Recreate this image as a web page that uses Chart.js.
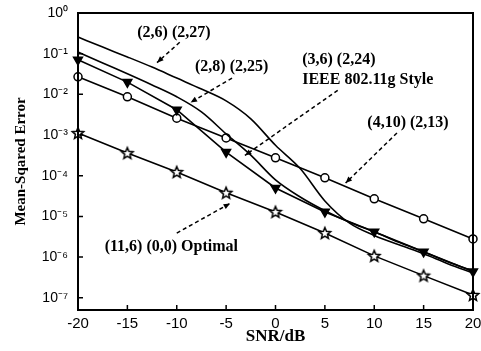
<!DOCTYPE html>
<html>
<head>
<meta charset="utf-8">
<script src="https://cdn.jsdelivr.net/npm/chart.js@4/dist/chart.umd.min.js"></script>
<style>
  html, body { margin: 0; background: #fff; }
  canvas { display: block; }
</style>
</head>
<body>
<canvas id="chart" width="481" height="351"></canvas>
<script>
// SNR points (dB)
const snrCoarse = [-20, -15, -10, -5, 0, 5, 10, 15, 20];
const snrFine = [-20, -17.5, -15, -12.5, -10, -7.5, -5, -2.5, 0, 2.5, 5, 7.5, 10, 12.5, 15, 17.5, 20];

// MSE
const mse26 = [0.257, 0.145, 0.0832, 0.0468, 0.0251, 0.0135, 6.9e-3, 2.5e-3, 5.6e-4, 1.5e-4, 2.4e-5, 6.8e-6, 3.4e-6, 2.0e-6, 1.2e-6, 6.8e-7, 4.1e-7];
const mse28 = [0.11, 0.059, 0.032, 0.017, 8.7e-3, 3.7e-3, 1.07e-3, 3.2e-4, 7.9e-5, 3.0e-5, 1.38e-5, 7.2e-6, 4.2e-6, 2.3e-6, 1.35e-6, 7.6e-7, 4.6e-7];
const mseIeee = [0.071, 0.020, 4.2e-3, 3.8e-4, 5.0e-5, 1.29e-5, 4.2e-6, 1.35e-6, 4.4e-7];
const mse410 = [0.027, 8.7e-3, 2.6e-3, 8.5e-4, 2.75e-4, 8.9e-5, 2.7e-5, 8.7e-6, 2.8e-6];
const mseOpt = [1.12e-3, 3.6e-4, 1.23e-4, 3.8e-5, 1.29e-5, 3.9e-6, 1.07e-6, 3.5e-7, 1.17e-7];

const yTickValues = [1, 1e-1, 1e-2, 1e-3, 1e-4, 1e-5, 1e-6, 1e-7];

// annotation text, anchored in data units (x in dB, y as log10 of MSE)
const notes = [
  { lines: ['(2,6) (2,27)'], x: -14.0, y: -0.49, from: [-9.7, -0.72], to: [-12.0, -1.22] },
  { lines: ['(2,8) (2,25)'], x: -8.15, y: -1.33, from: [-4.4, -1.60], to: [-8.6, -2.20] },
  { lines: ['(3,6) (2,24)', 'IEEE 802.11g Style'], x: 2.7, y: -1.15, from: [6.3, -1.90], to: [-3.1, -3.50] },
  { lines: ['(4,10) (2,13)'], x: 9.3, y: -2.70, from: [12.3, -2.95], to: [7.1, -4.18] },
  { lines: ['(11,6) (0,0) Optimal'], x: -17.3, y: -5.75, from: [-10.0, -5.41], to: [-4.6, -4.68] }
];

const supMap = { '0': '\u2070', '1': '\u00b9', '2': '\u00b2', '3': '\u00b3', '4': '\u2074', '5': '\u2075', '6': '\u2076', '7': '\u2077', '8': '\u2078', '9': '\u2079', '-': '\u207b' };
const sup = n => String(n).split('').map(c => supMap[c]).join('');

function pairs(xs, ys) {
  return xs.map((x, i) => ({ x: x, y: ys[i] }));
}

function starImage(r) {
  const c = document.createElement('canvas');
  const s = r * 2 + 4;
  c.width = c.height = s;
  const g = c.getContext('2d');
  g.translate(s / 2, s / 2 + 0.5);
  g.beginPath();
  for (let i = 0; i < 10; i++) {
    const rad = i % 2 ? r * 0.45 : r;
    const a = -Math.PI / 2 + i * Math.PI / 5;
    g.lineTo(rad * Math.cos(a), rad * Math.sin(a));
  }
  g.closePath();
  g.fillStyle = '#fff';
  g.fill();
  g.lineWidth = 1.5;
  g.strokeStyle = '#000';
  g.stroke();
  return c;
}

const serifBold = '"Liberation Serif", "Times New Roman", serif';

const frameAndTicks = {
  id: 'frameAndTicks',
  afterDraw(chart) {
    const { ctx, chartArea: a, scales: { x, y } } = chart;
    ctx.save();
    ctx.strokeStyle = '#000';
    ctx.lineWidth = 1.5;
    ctx.beginPath();
    x.ticks.forEach(t => {
      const p = x.getPixelForValue(t.value);
      ctx.moveTo(p, a.bottom);
      ctx.lineTo(p, a.bottom - 5);
    });
    y.ticks.forEach(t => {
      const p = y.getPixelForValue(t.value);
      ctx.moveTo(a.left, p);
      ctx.lineTo(a.left + 5, p);
    });
    ctx.stroke();
    ctx.lineWidth = 2;
    ctx.strokeRect(a.left, a.top, a.right - a.left, a.bottom - a.top);
    ctx.restore();
  }
};

const annotate = {
  id: 'annotate',
  afterDatasetsDraw(chart) {
    const { ctx, scales: { x, y } } = chart;
    const px = v => x.getPixelForValue(v);
    const py = e => y.getPixelForValue(Math.pow(10, e));
    ctx.save();
    ctx.fillStyle = '#000';
    ctx.strokeStyle = '#000';
    ctx.font = 'bold 16px ' + serifBold;
    ctx.textBaseline = 'middle';
    notes.forEach(n => {
      n.lines.forEach((t, i) => ctx.fillText(t, px(n.x), py(n.y) + i * 20));
      const x0 = px(n.from[0]), y0 = py(n.from[1]);
      const x1 = px(n.to[0]), y1 = py(n.to[1]);
      ctx.setLineDash([4, 3]);
      ctx.lineWidth = 1.5;
      ctx.beginPath();
      ctx.moveTo(x0, y0);
      ctx.lineTo(x1, y1);
      ctx.stroke();
      ctx.setLineDash([]);
      const ang = Math.atan2(y1 - y0, x1 - x0);
      ctx.beginPath();
      ctx.moveTo(x1, y1);
      ctx.lineTo(x1 - 7 * Math.cos(ang - 0.4), y1 - 7 * Math.sin(ang - 0.4));
      ctx.lineTo(x1 - 7 * Math.cos(ang + 0.4), y1 - 7 * Math.sin(ang + 0.4));
      ctx.closePath();
      ctx.fill();
    });
    ctx.restore();
  }
};

const lineBase = { borderColor: '#000', backgroundColor: '#000', borderWidth: 1.6, clip: false };

new Chart(document.getElementById('chart'), {
  type: 'line',
  data: {
    datasets: [
      Object.assign({}, lineBase, { label: '(2,6) (2,27)', data: pairs(snrFine, mse26), pointRadius: 0, cubicInterpolationMode: 'monotone' }),
      Object.assign({}, lineBase, { label: '(2,8) (2,25)', data: pairs(snrFine, mse28), pointRadius: 0, cubicInterpolationMode: 'monotone' }),
      Object.assign({}, lineBase, { label: '(3,6) (2,24) IEEE 802.11g Style', data: pairs(snrCoarse, mseIeee), pointStyle: 'triangle', pointRotation: 180, pointRadius: 5, pointBackgroundColor: '#000', pointBorderColor: '#000' }),
      Object.assign({}, lineBase, { label: '(4,10) (2,13)', data: pairs(snrCoarse, mse410), pointStyle: 'circle', pointRadius: 4, pointBackgroundColor: '#fff', pointBorderColor: '#000', pointBorderWidth: 1.5 }),
      Object.assign({}, lineBase, { label: '(11,6) (0,0) Optimal', data: pairs(snrCoarse, mseOpt), pointStyle: starImage(6) })
    ]
  },
  options: {
    responsive: false,
    animation: false,
    events: [],
    layout: { padding: { left: 0, top: 13, right: 8, bottom: 0 } },
    plugins: { legend: { display: false }, tooltip: { enabled: false } },
    scales: {
      x: {
        type: 'linear',
        min: -20,
        max: 20,
        afterFit: s => { s.height = 41; s.paddingLeft = 0; s.paddingRight = 0; },
        grid: { display: false, drawTicks: false },
        border: { display: false },
        ticks: { stepSize: 5, color: '#000', padding: 5, font: { family: '"Liberation Sans", Arial, sans-serif', size: 15 } },
        title: { display: true, text: 'SNR/dB', color: '#000', padding: { top: 0, bottom: 4 }, font: { family: serifBold, size: 17, weight: 'bold' } }
      },
      y: {
        type: 'logarithmic',
        min: 5e-8,
        max: 1,
        afterFit: s => { s.width = 78; s.paddingTop = 0; s.paddingBottom = 0; },
        afterBuildTicks: s => { s.ticks = yTickValues.map(v => ({ value: v })); },
        grid: { display: false, drawTicks: false },
        border: { display: false },
        ticks: {
          autoSkip: false,
          color: '#000',
          padding: 10,
          font: { family: '"Liberation Sans", Arial, sans-serif', size: 14 },
          callback: v => '10' + sup(Math.round(Math.log10(v)))
        },
        title: { display: true, text: 'Mean-Sqared Error', color: '#000', padding: { top: 12, bottom: 0 }, font: { family: serifBold, size: 15, weight: 'bold' } }
      }
    }
  },
  plugins: [annotate, frameAndTicks]
});
</script>
</body>
</html>
